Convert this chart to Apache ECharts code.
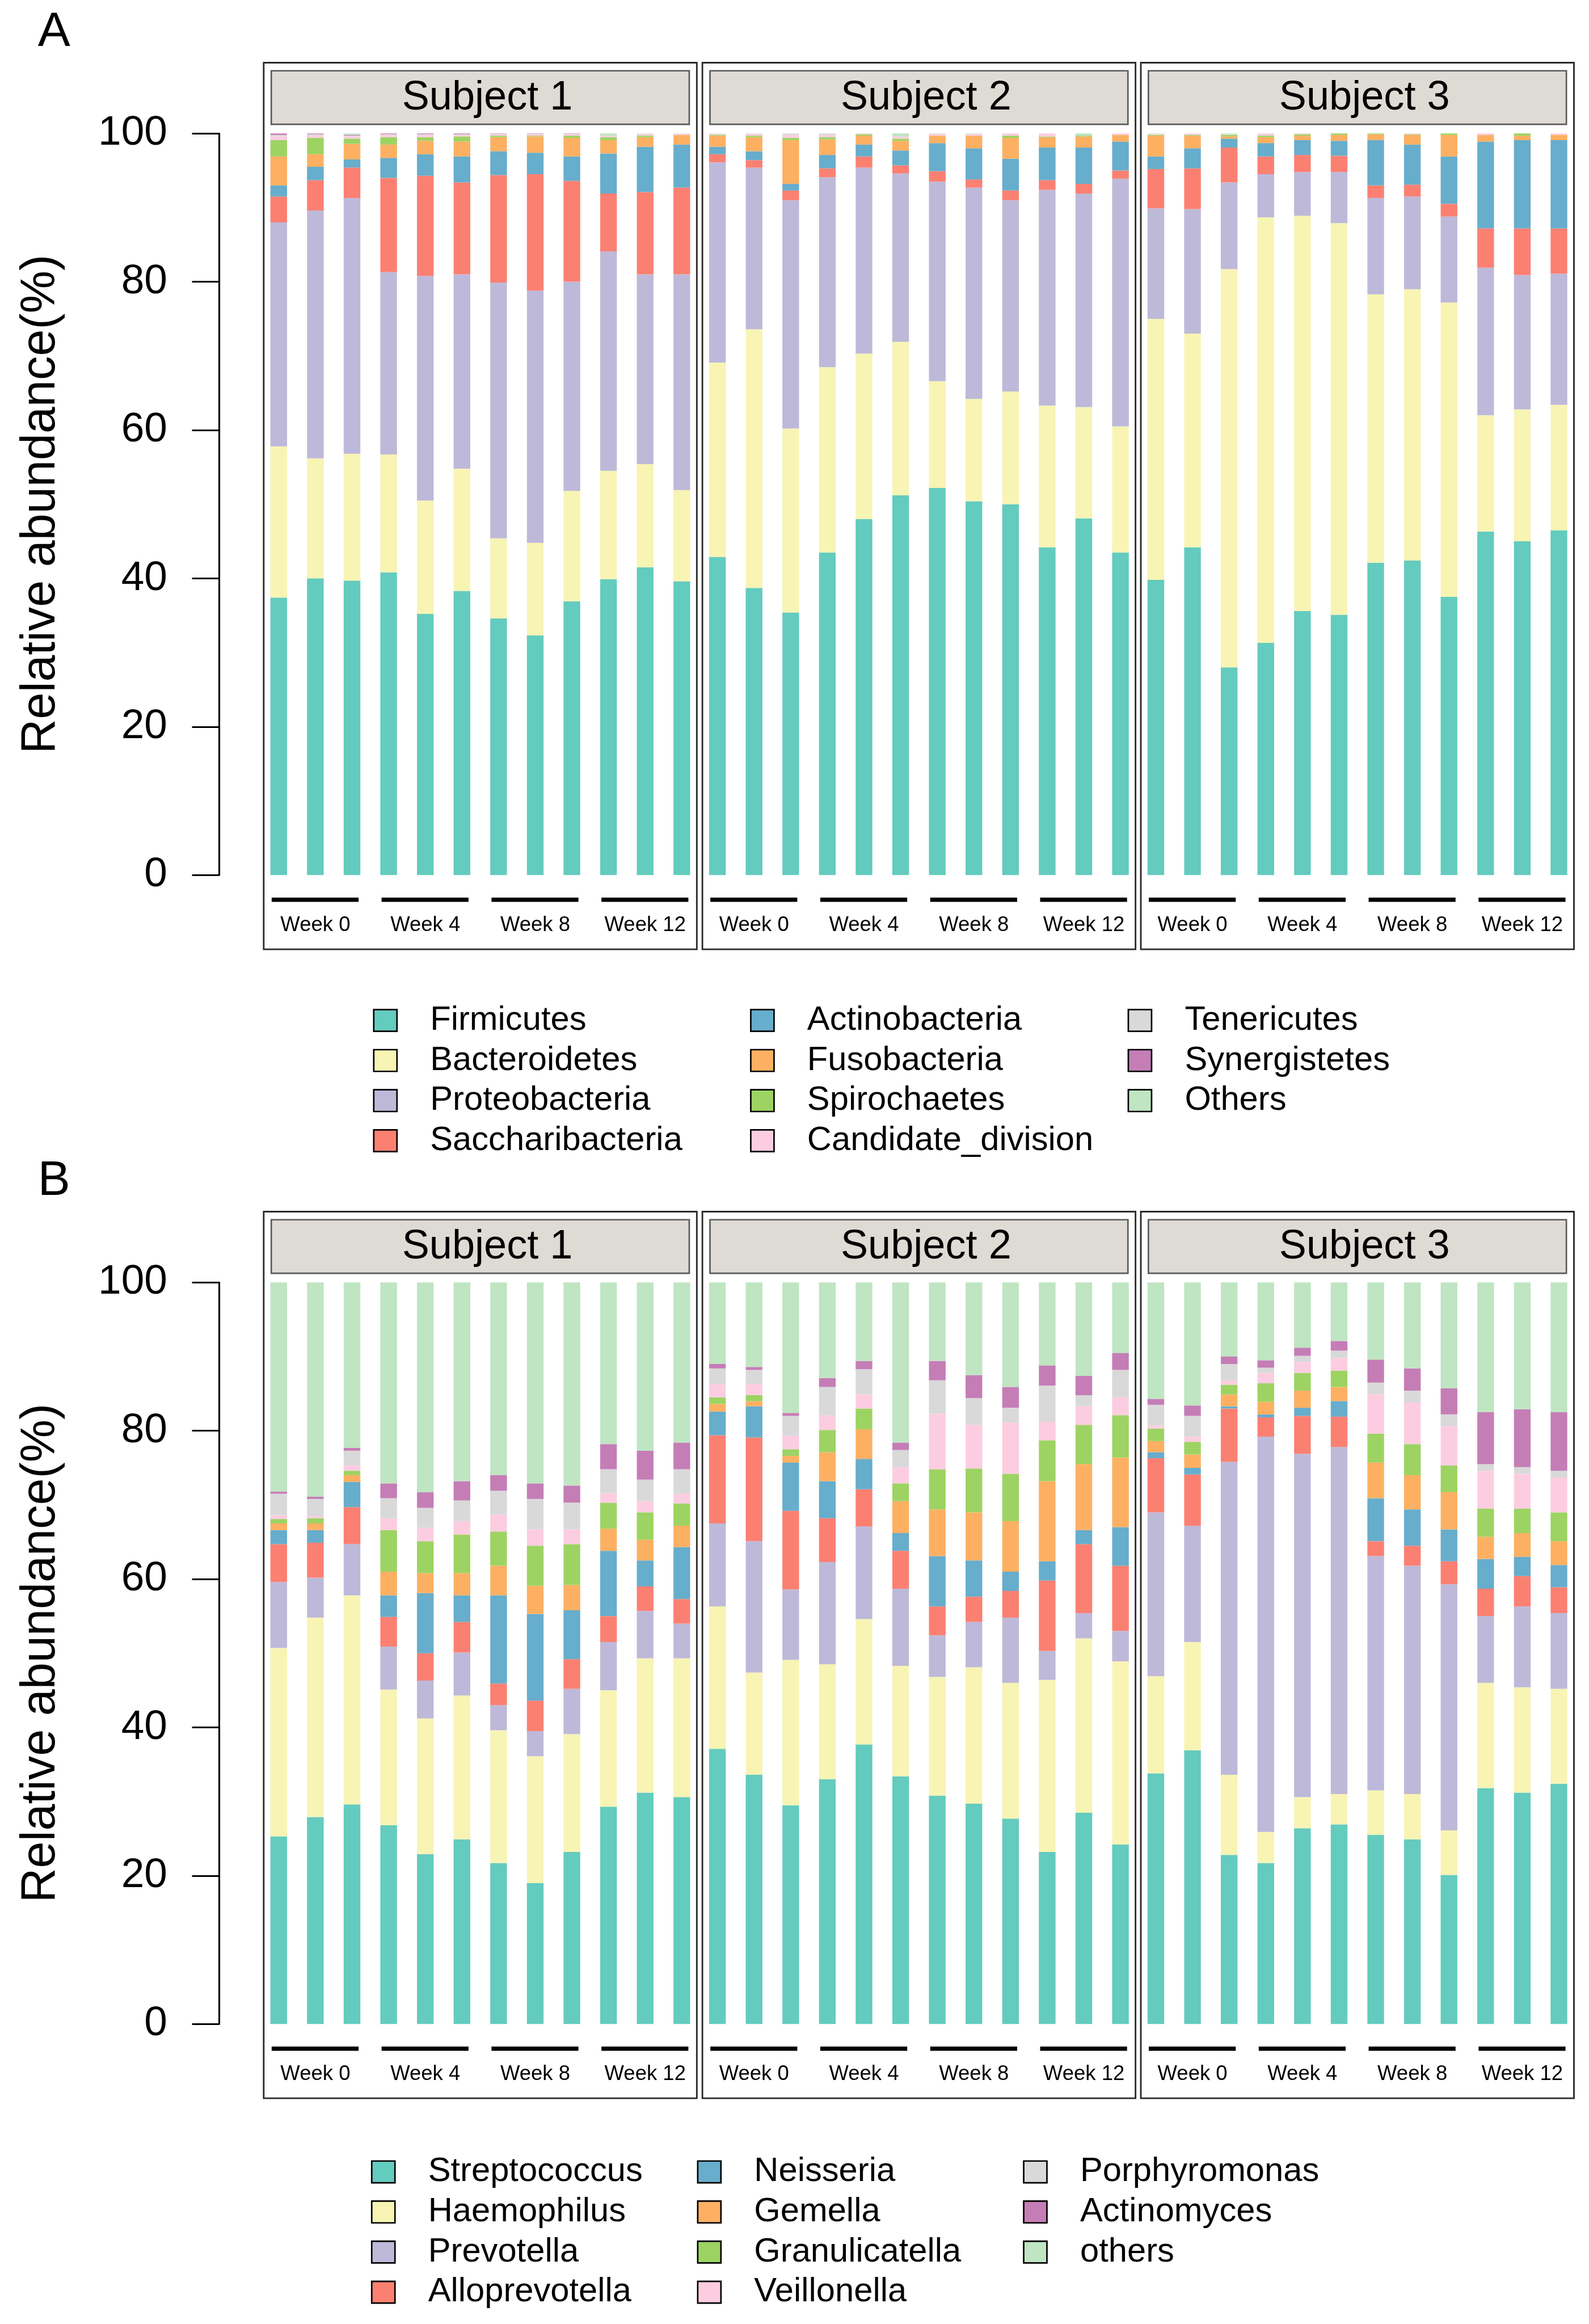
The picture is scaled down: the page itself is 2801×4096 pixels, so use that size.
<!DOCTYPE html>
<html>
<head>
<meta charset="utf-8">
<script src="https://cdn.jsdelivr.net/npm/echarts@6/dist/echarts.min.js"></script>
<style>html,body{margin:0;padding:0;background:#fff;}#chart{width:2801px;height:4096px;}</style>
</head>
<body>
<div id="chart"></div>
<script>
// ---------------- DATA ----------------
const phylumNames = ['Firmicutes','Bacteroidetes','Proteobacteria','Saccharibacteria','Actinobacteria','Fusobacteria','Spirochaetes','Candidate_division','Tenericutes','Synergistetes','Others'];
const genusNames = ['Streptococcus','Haemophilus','Prevotella','Alloprevotella','Neisseria','Gemella','Granulicatella','Veillonella','Porphyromonas','Actinomyces','others'];
const palette = ['#64CBBF','#F8F4B4','#BEB9D9','#FB8072','#67ADCC','#FDB062','#9DD363','#FCCDE0','#D9D9D9','#C57DB6','#BFE5C2'];
const subjectNames = ['Subject 1','Subject 2','Subject 3'];
const weekLabels = ['Week 0','Week 4','Week 8','Week 12'];
const sampleIds = ['W0-1','W0-2','W0-3','W4-1','W4-2','W4-3','W8-1','W8-2','W8-3','W12-1','W12-2','W12-3'];
const yTickValues = [0,20,40,60,80,100];

// Panel A (phylum), one row per sample, columns in phylumNames order (%)
const phylumS1 = [
 [37.4,20.4,30.2,3.5,1.5,3.9,2.2,0.5,0.2,0.2,0.0],
 [40.0,16.2,33.4,4.1,1.8,1.7,2.2,0.3,0.2,0.1,0.0],
 [39.7,17.1,34.5,4.1,1.1,2.1,0.7,0.3,0.1,0.1,0.2],
 [40.8,15.9,24.6,12.7,2.7,1.8,1.0,0.3,0.1,0.1,0.0],
 [35.2,15.3,30.3,13.5,2.9,1.8,0.5,0.3,0.1,0.1,0.0],
 [38.3,16.5,26.2,12.4,3.5,2.0,0.7,0.2,0.1,0.1,0.0],
 [34.6,10.8,34.5,14.5,3.2,1.9,0.2,0.2,0.05,0.05,0.0],
 [32.3,12.5,34.0,15.7,2.9,2.2,0.1,0.2,0.05,0.05,0.0],
 [36.9,14.9,28.2,13.6,3.3,2.5,0.3,0.2,0.05,0.05,0.0],
 [39.9,14.6,29.6,7.8,5.4,1.8,0.4,0.2,0.0,0.0,0.3],
 [41.5,13.9,25.6,11.1,6.1,1.3,0.2,0.2,0.1,0.0,0.0],
 [39.6,12.3,29.1,11.7,5.8,1.3,0.0,0.1,0.1,0.0,0.0]
];
const phylumS2 = [
 [42.9,26.2,27.0,1.1,1.0,1.5,0.1,0.1,0.1,0.0,0.0],
 [38.7,34.9,21.8,1.0,1.2,1.9,0.2,0.2,0.1,0.0,0.0],
 [35.4,24.8,30.8,1.3,0.9,5.9,0.3,0.4,0.2,0.0,0.0],
 [43.5,25.0,25.6,1.2,1.8,2.1,0.3,0.3,0.2,0.0,0.0],
 [48.0,22.3,25.1,1.5,1.6,1.2,0.2,0.1,0.0,0.0,0.0],
 [51.2,20.7,22.7,1.1,2.0,1.3,0.3,0.3,0.0,0.0,0.4],
 [52.2,14.4,26.9,1.4,3.8,1.0,0.0,0.2,0.1,0.0,0.0],
 [50.4,13.8,28.5,1.1,4.2,1.7,0.0,0.2,0.1,0.0,0.0],
 [50.0,15.2,25.8,1.3,4.3,2.8,0.3,0.3,0.0,0.0,0.0],
 [44.2,19.1,29.1,1.3,4.4,1.4,0.1,0.4,0.0,0.0,0.0],
 [48.1,15.0,28.8,1.3,4.9,1.5,0.1,0.0,0.0,0.0,0.3],
 [43.5,17.0,33.4,1.1,3.9,0.9,0.0,0.2,0.0,0.0,0.0]
];
const phylumS3 = [
 [39.8,35.2,14.9,5.3,1.7,2.8,0.1,0.1,0.1,0.0,0.0],
 [44.2,28.8,16.8,5.5,2.7,1.7,0.1,0.2,0.0,0.0,0.0],
 [28.0,53.7,11.7,4.7,1.2,0.3,0.2,0.1,0.0,0.0,0.1],
 [31.3,57.4,5.8,2.4,1.8,0.8,0.2,0.3,0.0,0.0,0.0],
 [35.6,53.3,5.9,2.3,2.0,0.6,0.2,0.1,0.0,0.0,0.0],
 [35.1,52.8,6.9,2.2,2.0,0.8,0.2,0.0,0.0,0.0,0.0],
 [42.1,36.2,13.0,1.7,6.1,0.8,0.1,0.0,0.0,0.0,0.0],
 [42.4,36.6,12.5,1.6,5.4,1.3,0.1,0.1,0.0,0.0,0.0],
 [37.5,39.7,11.6,1.7,6.4,2.9,0.2,0.0,0.0,0.0,0.0],
 [46.3,15.7,19.9,5.3,11.7,0.9,0.0,0.2,0.0,0.0,0.0],
 [45.0,17.8,18.1,6.3,11.9,0.6,0.3,0.0,0.0,0.0,0.0],
 [46.5,16.9,17.7,6.1,11.9,0.7,0.0,0.2,0.0,0.0,0.0]
];

// Panel B (genus), one row per sample, columns in genusNames order (%)
const genusS1 = [
 [25.3,25.4,8.9,5.1,1.9,0.9,0.6,0.5,2.9,0.3,28.2],
 [27.9,26.9,5.4,4.7,1.7,0.9,0.7,0.3,2.3,0.3,28.9],
 [29.6,28.2,6.9,5.0,3.4,0.9,0.6,0.7,2.0,0.4,22.3],
 [26.8,18.3,5.8,4.0,2.9,3.2,5.6,1.6,2.7,2.0,27.1],
 [22.9,18.3,5.1,3.7,8.1,2.7,4.3,1.8,2.7,2.1,28.3],
 [24.9,19.4,5.8,4.1,3.6,3.0,5.2,1.8,2.8,2.6,26.8],
 [21.7,17.9,3.4,2.9,11.9,4.0,4.6,2.3,3.2,2.1,26.0],
 [19.0,17.1,3.4,4.1,11.7,3.8,5.4,2.2,4.1,2.1,27.1],
 [23.2,15.9,6.1,4.0,6.6,3.4,5.5,2.0,3.6,2.3,27.4],
 [29.3,15.7,6.5,3.5,8.8,3.0,3.5,1.3,3.2,3.4,21.8],
 [31.2,18.1,6.4,3.3,3.5,2.8,3.7,1.5,2.9,3.9,22.7],
 [30.6,18.7,4.7,3.3,7.0,2.9,3.0,1.3,3.3,3.6,21.6]
];
const genusS2 = [
 [37.1,19.2,11.2,11.9,3.2,1.0,0.9,1.8,2.1,0.6,11.0],
 [33.6,13.8,17.7,14.0,4.2,0.7,0.8,1.5,1.9,0.4,11.4],
 [29.5,19.6,9.5,10.6,6.5,0.9,0.9,1.8,2.7,0.4,17.6],
 [33.0,15.5,13.8,5.9,5.0,3.9,3.0,2.0,3.8,1.2,12.9],
 [37.7,16.9,12.5,5.0,4.1,4.0,2.8,1.9,3.4,1.1,10.6],
 [33.4,14.9,10.4,5.1,2.4,4.3,2.4,2.2,2.3,1.0,21.6],
 [30.8,16.0,5.6,3.9,6.8,6.3,5.4,7.5,4.5,2.6,10.6],
 [29.7,18.4,6.1,3.4,4.9,6.5,5.9,5.9,3.6,3.1,12.5],
 [27.7,18.3,8.8,3.6,2.6,6.8,6.4,6.9,2.0,2.8,14.1],
 [23.2,23.2,3.9,9.5,2.6,10.8,5.5,2.5,4.9,2.7,11.2],
 [28.5,23.5,3.4,9.3,1.9,8.9,5.3,2.5,1.5,2.6,12.6],
 [24.2,24.7,4.1,8.8,5.2,9.4,5.7,2.4,3.7,2.3,9.5]
];
const genusS3 = [
 [33.8,13.1,22.1,7.3,0.8,1.5,1.7,0.4,2.8,0.8,15.7],
 [36.9,14.6,15.7,6.9,0.9,1.8,1.7,0.7,2.8,1.4,16.6],
 [22.8,10.8,42.2,7.2,0.3,1.6,1.3,0.6,2.2,1.0,10.0],
 [21.7,4.2,53.3,2.6,0.4,1.7,2.5,1.4,0.7,1.0,10.5],
 [26.4,4.2,46.3,5.1,1.1,2.3,2.4,1.5,0.8,1.1,8.8],
 [26.9,4.1,46.8,4.1,2.1,1.9,2.2,1.7,1.0,1.3,7.9],
 [25.5,6.0,31.6,2.0,5.8,4.8,3.9,5.3,1.6,3.1,10.4],
 [24.9,6.1,30.8,2.7,4.9,4.6,4.2,5.6,1.6,3.0,11.6],
 [20.1,6.0,33.2,3.1,4.3,5.0,3.6,5.3,1.6,3.5,14.3],
 [31.8,14.2,9.0,3.7,4.0,3.0,3.8,5.1,0.9,7.0,17.5],
 [31.2,14.2,10.9,4.1,2.6,3.2,3.3,4.7,0.9,7.8,17.1],
 [32.4,12.8,10.2,3.5,3.0,3.2,3.9,4.7,0.9,7.9,17.5]
];

// ---------------- LAYOUT (reference pixels, scaled) ----------------
const S = 2801 / 3144;
const px = v => v * S;
const FONT = "'Liberation Sans', Arial, Helvetica, sans-serif";
const BAND = 72.5, BARW = 33;
const gridLeft = [515.25, 1383.25, 2250.75];
const PLOT_H = 1467;

const panels = [
  { label: 'A', names: phylumNames, data: [phylumS1, phylumS2, phylumS3], dy: 0,
    legendLeft: [738, 1484, 2231], legendTop: 1985 },
  { label: 'B', names: genusNames, data: [genusS1, genusS2, genusS3], dy: 2273,
    legendLeft: [734, 1379, 2024], legendTop: 4263 }
];

const grids = [], xAxes = [], yAxes = [], series = [], legends = [], graphics = [];

panels.forEach((p, pi) => {
  const plotTop = 264 + p.dy;
  // panel letter
  graphics.push({ type: 'text', x: px(107), y: px(64 + p.dy), silent: true,
    style: { text: p.label, font: `${px(96)}px ${FONT}`, fill: '#000', align: 'center', verticalAlign: 'middle' } });
  // y title
  graphics.push({ type: 'text', x: px(82), y: px(plotTop + PLOT_H / 2), rotation: Math.PI / 2, silent: true,
    style: { text: 'Relative abundance(%)', font: `${px(95)}px ${FONT}`, fill: '#000', align: 'center', verticalAlign: 'middle' } });

  subjectNames.forEach((sn, si) => {
    const gi = grids.length;
    grids.push({ left: px(gridLeft[si]), top: px(plotTop), width: px(BAND * 12), height: px(PLOT_H) });
    xAxes.push({ type: 'category', gridIndex: gi, data: sampleIds, show: false });
    yAxes.push({
      type: 'value', gridIndex: gi, min: 0, max: 100, interval: 20,
      show: si === 0, position: 'left', offset: px(82.25),
      splitLine: { show: false },
      axisLine: { show: true, lineStyle: { color: '#000', width: px(3.5) } },
      axisTick: { show: true, inside: false, length: px(53), lineStyle: { color: '#000', width: px(3.5) } },
      axisLabel: { show: true, margin: px(102), fontSize: px(82), fontFamily: FONT, color: '#000' }
    });
    p.names.forEach((nm, k) => {
      series.push({
        type: 'bar', name: nm, xAxisIndex: gi, yAxisIndex: gi, stack: 'st' + gi,
        barWidth: px(BARW), itemStyle: { color: palette[k] },
        data: p.data[si].map(row => row[k]), emphasis: { disabled: true }
      });
    });

    // frame, header
    const cx = gridLeft[si] + BAND * 6;
    const fTop = 124 + p.dy, fBot = 1878 + p.dy;
    graphics.push({ type: 'rect', silent: true,
      shape: { x: px(cx - 428.5), y: px(fTop), width: px(857), height: px(fBot - fTop) },
      style: { fill: 'none', stroke: '#2a2a2a', lineWidth: px(3.2) } });
    graphics.push({ type: 'rect', silent: true,
      shape: { x: px(cx - 413.5), y: px(140 + p.dy), width: px(827), height: px(106) },
      style: { fill: '#DEDAD4', stroke: '#5a5a5a', lineWidth: px(3) } });
    graphics.push({ type: 'text', silent: true, x: px(cx + 14), y: px(194 + p.dy),
      style: { text: sn, font: `${px(81)}px ${FONT}`, fill: '#000', align: 'center', verticalAlign: 'middle' } });

    // week brackets
    weekLabels.forEach((wl, w) => {
      const c0 = gridLeft[si] + (3 * w + 0.5) * BAND;
      const c2 = gridLeft[si] + (3 * w + 2.5) * BAND;
      graphics.push({ type: 'line', silent: true,
        shape: { x1: px(c0 - 14), y1: px(1780 + p.dy), x2: px(c2 + 13), y2: px(1780 + p.dy) },
        style: { stroke: '#000', lineWidth: px(8.5) } });
      graphics.push({ type: 'text', silent: true, x: px((c0 + c2) / 2), y: px(1831 + p.dy),
        style: { text: wl, font: `${px(41)}px ${FONT}`, fill: '#000', align: 'center', verticalAlign: 'middle' } });
    });
  });

  // legends: 3 columns, 4 rows
  [[0, 4], [4, 8], [8, 11]].forEach((rng, ci) => {
    legends.push({
      show: true, orient: 'vertical', selectedMode: false,
      left: px(p.legendLeft[ci]), top: px(p.legendTop), height: 600,
      itemWidth: px(46), itemHeight: px(43), itemGap: px(12),
      icon: 'rect', padding: 0,
      itemStyle: { borderColor: '#000', borderWidth: px(3) },
      textStyle: { fontSize: px(67), fontFamily: FONT, color: '#000', lineHeight: px(43), padding: [0, 0, 0, px(60)] },
      data: p.names.slice(rng[0], rng[1])
    });
  });
});

const chart = echarts.init(document.getElementById('chart'), null, { renderer: 'canvas' });
chart.setOption({
  animation: false,
  backgroundColor: '#fff',
  grid: grids, xAxis: xAxes, yAxis: yAxes,
  legend: legends, series: series, graphic: graphics
});
</script>
</body>
</html>
